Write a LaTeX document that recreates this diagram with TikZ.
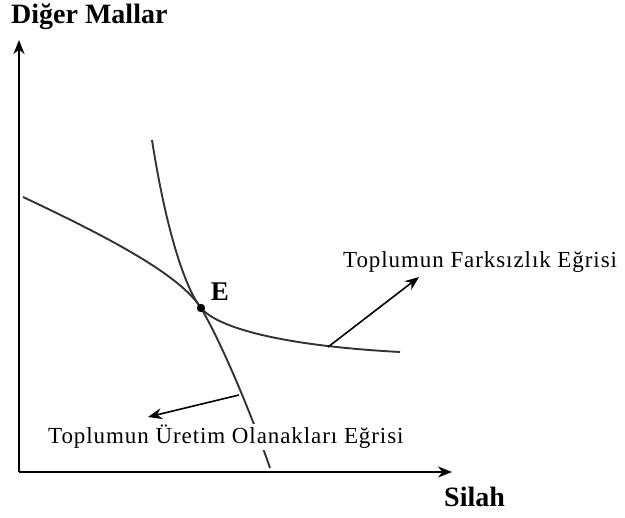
\documentclass[tikz,border=0pt]{standalone}
\usepackage{fontspec}
\setmainfont{Liberation Serif}
\newfontfamily\widefont[LetterSpace=4]{Liberation Serif}
\usetikzlibrary{arrows.meta,positioning}

\begin{document}
\begin{tikzpicture}[x=1pt,y=-1pt,>=Stealth,
  axis/.style={line width=2pt,->,>={Stealth[length=14pt,width=11pt]}},
  curve/.style={line width=1.9pt,black!80},
  pointer/.style={line width=1.6pt,->,>={Stealth[length=14pt,width=11pt]}},
  axislabel/.style={font=\fontsize{28}{32}\selectfont\bfseries,inner sep=0pt},
  curvelabel/.style={font=\fontsize{23}{27}\widefont,inner sep=1pt}]
  \useasboundingbox (0,0) rectangle (625,518);

  % axes
  \coordinate (O) at (19,472);
  \coordinate (ytop) at (19,40);
  \coordinate (xend) at (452,472);
  \draw[axis] (O) -- (ytop);
  \draw[axis] (O) -- (xend);
  \node[axislabel,anchor=west] (ylab) at (11,17) {Diğer Mallar};
  \node[axislabel,anchor=west] (xlab) at (444,497) {Silah};

  % production possibilities curve
  \draw[curve] (23,197) .. controls (110,238) and (180,275) .. (201,308)
    .. controls (220,340) and (250,410) .. (270,468);
  % indifference curve
  \draw[curve] (152,140) .. controls (166,230) and (185,288) .. (201,308)
    .. controls (215,325) and (270,345) .. (400,352);

  % tangency point
  \fill (201,308) circle (4.2pt);
  \node[font=\fontsize{27}{30}\selectfont\bfseries,inner sep=0pt] (E) at (220,292) {E};

  % labels
  \node[curvelabel,anchor=west] (farklab) at (342,262) {Toplumun Farksızlık Eğrisi};
  \coordinate (fstart) at (328,347);
  \coordinate (fend) at (419,277);
  \draw[pointer] (fstart) -- (fend);

  \node[curvelabel,anchor=west,fill=white] (uretlab) at (47,437) {Toplumun Üretim Olanakları Eğrisi};
  \coordinate (ustart) at (239,395);
  \coordinate (uend) at (148,417);
  \draw[pointer] (ustart) -- (uend);
\end{tikzpicture}
\end{document}
